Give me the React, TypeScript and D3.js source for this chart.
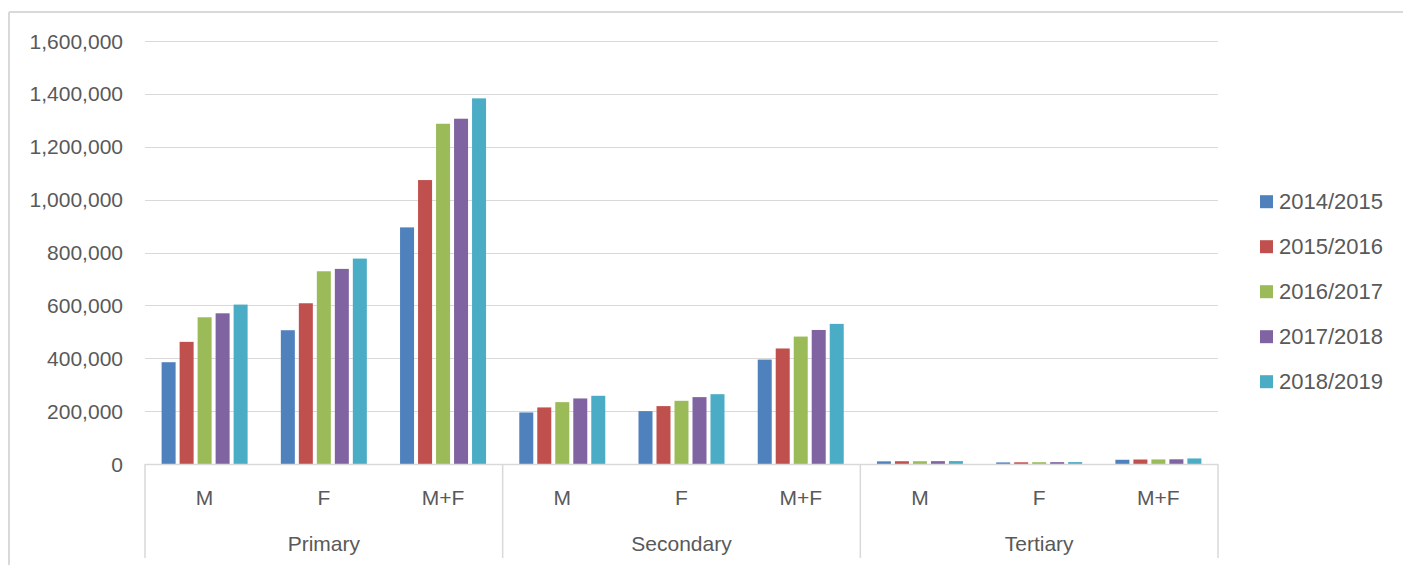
import React from "react";
import * as d3 from "d3";

const groups = ["Primary", "Secondary", "Tertiary"];
const subs = ["M", "F", "M+F"];
const seriesNames = ["2014/2015", "2015/2016", "2016/2017", "2017/2018", "2018/2019"];
const colors = ["#4F81BD", "#C0504D", "#9BBB59", "#8064A2", "#4BACC6"];
const yTicks = [0, 200000, 400000, 600000, 800000, 1000000, 1200000, 1400000, 1600000];

const primaryM = [385000, 462000, 555000, 570000, 603000];
const primaryF = [506000, 608000, 729000, 738000, 777000];
const primaryMF = [895000, 1074000, 1287000, 1306000, 1383000];
const secondaryM = [195000, 214000, 234000, 248000, 258000];
const secondaryF = [200000, 219000, 239000, 253000, 264000];
const secondaryMF = [395000, 437000, 482000, 507000, 530000];
const tertiaryM = [10000, 10500, 10500, 10800, 11000];
const tertiaryF = [6000, 6500, 6800, 7000, 7200];
const tertiaryMF = [16000, 17000, 17300, 17800, 21000];

const rows = [primaryM, primaryF, primaryMF, secondaryM, secondaryF, secondaryMF, tertiaryM, tertiaryF, tertiaryMF];

const FONT = "'Liberation Sans', Arial, sans-serif";
const TXT = "#595959";
const GRID = "#D9D9D9";

export default function App() {
  const W = 1403, H = 565;
  const left = 145, right = 1218, top = 41, bottom = 464;
  const y = d3.scaleLinear().domain([0, 1600000]).range([bottom, top]);
  const keys = d3.range(9).map(String);
  const x = d3.scaleBand<string>().domain(keys).range([left, right]).paddingInner(0).paddingOuter(0);
  const slot = 18;
  const nb = seriesNames.length;
  const po = (x.bandwidth() - nb * slot) / 2 / slot;
  const xi = d3.scaleBand<string>().domain(seriesNames).range([0, x.bandwidth()]).paddingInner(0).paddingOuter(po);
  const gx = d3.scaleBand<string>().domain(groups).range([left, right]);
  const fmt = d3.format(",");

  return (
    <svg width={W} height={H} style={{ position: "absolute", left: 0, top: 0, background: "#fff" }} fontFamily={FONT}>
      <rect x={0} y={0} width={W} height={H} fill="#fff" />
      <line x1={9} y1={12} x2={W} y2={12} stroke={GRID} strokeWidth={2} />
      <line x1={9} y1={12} x2={9} y2={H} stroke={GRID} strokeWidth={2} />
      {yTicks.map((t) => (
        <g key={t}>
          {t > 0 && <line x1={left} x2={right} y1={Math.round(y(t)) + 0.5} y2={Math.round(y(t)) + 0.5} stroke={GRID} strokeWidth={1} />}
          <text x={123} y={y(t)} textAnchor="end" dominantBaseline="central" fontSize={21} fill={TXT}>
            {fmt(t)}
          </text>
        </g>
      ))}
      {rows.map((vals, i) => (
        <g key={i} transform={`translate(${x(String(i))},0)`}>
          {vals.map((v, s) => (
            <rect
              key={s}
              x={(xi(seriesNames[s]) as number) + 2}
              y={y(v)}
              width={xi.bandwidth() - 4}
              height={bottom - y(v)}
              fill={colors[s]}
            />
          ))}
        </g>
      ))}
      <line x1={left} x2={right} y1={bottom + 0.5} y2={bottom + 0.5} stroke={GRID} strokeWidth={1.5} />
      {groups.map((g) => (
        <line key={g} x1={gx(g)} x2={gx(g)} y1={bottom} y2={558} stroke={GRID} strokeWidth={1.5} />
      ))}
      <line x1={right} x2={right} y1={bottom} y2={558} stroke={GRID} strokeWidth={1.5} />
      {keys.map((k, i) => (
        <text key={k} x={(x(k) as number) + x.bandwidth() / 2} y={497} textAnchor="middle" dominantBaseline="central" fontSize={21} fill={TXT}>
          {subs[i % 3]}
        </text>
      ))}
      {groups.map((g) => (
        <text key={g} x={(gx(g) as number) + gx.bandwidth() / 2} y={543} textAnchor="middle" dominantBaseline="central" fontSize={21} fill={TXT}>
          {g}
        </text>
      ))}
      {seriesNames.map((s, i) => {
        const cy = 201.7 + i * 45;
        return (
          <g key={s}>
            <rect x={1260} y={cy - 6.5} width={13} height={13} fill={colors[i]} />
            <text x={1279} y={cy} dominantBaseline="central" fontSize={22} fill={TXT}>
              {s}
            </text>
          </g>
        );
      })}
    </svg>
  );
}
